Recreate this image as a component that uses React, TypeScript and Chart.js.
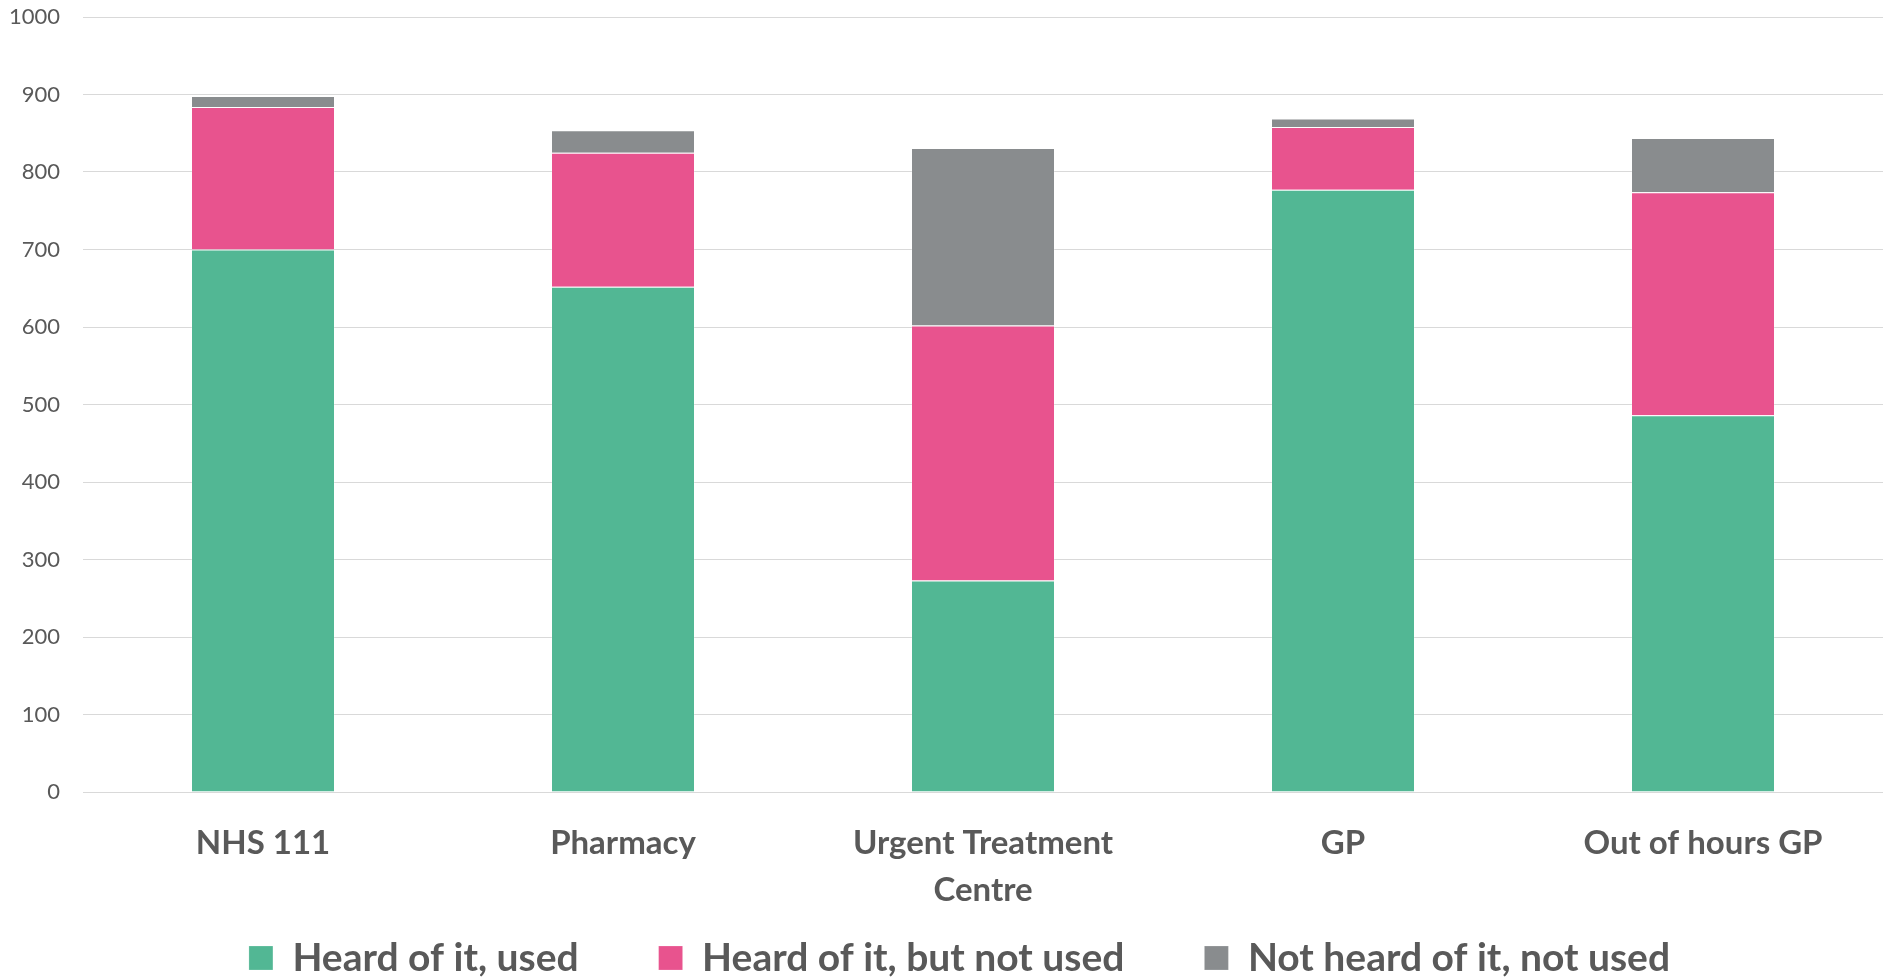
import React, { useEffect, useRef } from "react";
import { Chart, registerables } from "chart.js";

Chart.register(...registerables);

const categories: (string | string[])[] = [
  "NHS 111",
  "Pharmacy",
  ["Urgent Treatment", "Centre"],
  "GP",
  "Out of hours GP",
];
const heardUsed = [700, 652, 273, 777, 486];
const heardNotUsed = [184, 173, 329, 81, 288];
const notHeard = [14, 29, 229, 11, 70];
const seriesNames = ["Heard of it, used", "Heard of it, but not used", "Not heard of it, not used"];
const seriesColors = ["#52B794", "#E8538E", "#898C8E"];
const yTicks = { min: 0, max: 1000, step: 100 };

const FONT = "Lato, 'Open Sans', sans-serif";
const TEXT = "#595959";

// give the axis labels room to draw outside their (tight) layout boxes
const labelRoom = {
  id: "labelRoom",
  afterLayout(chart: any) {
    const x = chart.scales.x;
    if (x) x.bottom = chart.height;
    const y = chart.scales.y;
    if (y) y.left = 0;
  },
};

export default function App() {
  const ref = useRef<HTMLCanvasElement | null>(null);
  useEffect(() => {
    if (!ref.current) return;
    const values = [heardUsed, heardNotUsed, notHeard];
    const chart = new Chart(ref.current, {
      type: "bar",
      data: {
        labels: categories,
        datasets: values.map((v, i) => ({
          label: seriesNames[i],
          data: v,
          backgroundColor: seriesColors[i],
          borderColor: "rgba(255,255,255,0.2)",
          borderWidth: 1,
          barPercentage: 0.4,
          categoryPercentage: 1,
        })),
      },
      plugins: [labelRoom],
      options: {
        animation: false,
        responsive: true,
        maintainAspectRatio: false,
        layout: { padding: { top: 17, right: 7, left: 36, bottom: -10.5 } },
        plugins: {
          tooltip: { enabled: false },
          legend: {
            position: "bottom",
            labels: {
              color: TEXT,
              font: { family: FONT, size: 39, weight: "bold" },
              boxWidth: 24,
              boxHeight: 24,
              padding: 80,
            },
          },
        },
        scales: {
          x: {
            stacked: true,
            grid: { display: false, drawTicks: false },
            border: { display: false },
            ticks: {
              color: TEXT,
              font: { family: FONT, size: 33, weight: "bold", lineHeight: 1.42 },
              padding: 28,
              maxRotation: 0,
              autoSkip: false,
            },
            afterFit: (s: any) => {
              s.height = 66.5;
            },
          },
          y: {
            stacked: true,
            min: yTicks.min,
            max: yTicks.max,
            grid: { color: "#D9D9D9", lineWidth: 1, drawTicks: false },
            border: { display: false },
            ticks: {
              stepSize: yTicks.step,
              color: TEXT,
              font: { family: FONT, size: 22 },
              padding: 23,
              callback: (v: any) => String(v),
            },
            afterFit: (s: any) => {
              s.width = 47;
              s.paddingTop = 12;
              s.paddingBottom = 12;
            },
          },
        },
      },
    });
    return () => chart.destroy();
  }, []);
  return (
    <div style={{ position: "absolute", left: 0, top: 0, width: 1890, height: 977, background: "#fff" }}>
      <canvas ref={ref} />
    </div>
  );
}
